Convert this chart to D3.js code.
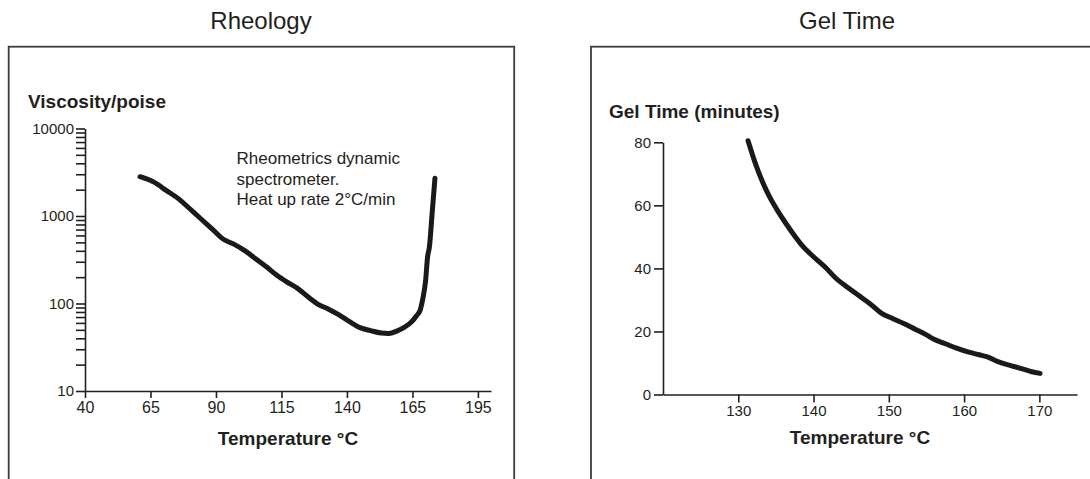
<!DOCTYPE html>
<html>
<head>
<meta charset="utf-8">
<script src="https://cdn.jsdelivr.net/npm/d3@7"></script>
<style>
  body { margin: 0; background: #fff; }
  svg { display: block; font-family: "Liberation Sans", Arial, Helvetica, sans-serif; }
  .tick text { fill: #231f20; }
</style>
</head>
<body>
<div id="root"></div>
<script>
const w = 1090;
const h = 479;
const ink = "#231f20";

// rheology: temperature (°C) vs viscosity (poise, log scale)
const rheoTemp = [61, 66.5, 71, 76, 80, 84, 89, 93, 97, 101, 105, 109, 113, 117, 121, 125, 129, 133, 137, 141,
                  145, 149, 153, 156, 159, 162, 164.5, 166.5, 168, 169, 170, 170.8, 171.5, 172.5, 173.6];
const rheoVisc = [2810, 2420, 1960, 1550, 1210, 942, 690, 538, 474, 402, 326, 266, 213, 177, 150, 120, 98, 86, 74, 62,
                  53, 49, 46, 45.5, 48.4, 53.7, 61, 72, 85, 115, 178, 343, 447, 1050, 2700];
const rheoXTicks = [40, 65, 90, 115, 140, 165, 190];
const rheoXLabels = ["40", "65", "90", "115", "140", "165", "195"];
const rheoYLabels = ["10", "100", "1000", "10000"];
const rheoNote = ["Rheometrics dynamic", "spectrometer.", "Heat up rate 2°C/min"];

// gel time: temperature (°C) vs minutes
const gelTemp = [131.3, 132.2, 133.3, 134.2, 135.3, 136.4, 137.5, 138.5, 140, 141.5, 143, 144.5, 146, 147.5, 149,
                 150.5, 152, 153.5, 155, 156, 157.5, 159, 160.5, 162, 163, 164.5, 166, 167.5, 169, 170.1];
const gelMin = [80.5, 73.8, 67, 62.5, 58, 54, 50.3, 47.2, 43.7, 40.5, 36.8, 34, 31.4, 28.8, 25.8,
                24.1, 22.5, 20.7, 18.9, 17.5, 16.1, 14.7, 13.5, 12.6, 12.0, 10.4, 9.3, 8.3, 7.2, 6.7];
const gelXTicks = [130, 140, 150, 160, 170];
const gelYTicks = [0, 20, 40, 60, 80];

const svg = d3.select("#root")
    .append("svg")
    .attr("width", w)
    .attr("height", h);

// panel frames (run off the bottom / right of the picture)
svg.append("rect")
    .attr("x", 8.7).attr("y", 46.7)
    .attr("width", 505.5).attr("height", 500)
    .attr("fill", "none").attr("stroke", "#3d3d3d").attr("stroke-width", 1.8);
svg.append("rect")
    .attr("x", 591).attr("y", 46.7)
    .attr("width", 600).attr("height", 500)
    .attr("fill", "none").attr("stroke", "#3d3d3d").attr("stroke-width", 1.8);

// titles
svg.append("text")
    .attr("x", 261).attr("y", 28.5)
    .attr("text-anchor", "middle")
    .style("font-size", "24px").style("fill", ink)
    .text("Rheology");
svg.append("text")
    .attr("x", 847).attr("y", 28.5)
    .attr("text-anchor", "middle")
    .style("font-size", "24px").style("fill", ink)
    .text("Gel Time");

function styleAxis(g, size) {
    g.selectAll("path, line").attr("stroke", ink).attr("stroke-width", 1.6);
    g.selectAll("text").style("font-size", size + "px");
}

// ---------- Rheology ----------
const xL = d3.scaleLinear().domain([40, 195]).range([85, 491]);
const yL = d3.scaleLog().domain([10, 10000]).range([391, 128.5]);

const xAxisL = d3.axisBottom(xL)
    .tickValues(rheoXTicks)
    .tickFormat((d, i) => rheoXLabels[i])
    .tickSize(7).tickSizeOuter(0).tickPadding(4);
svg.append("g")
    .attr("transform", "translate(0," + 391 + ")")
    .call(xAxisL)
    .call(styleAxis, 16);

const yAxisL = d3.axisLeft(yL)
    .tickValues(yL.ticks())
    .tickFormat(d => rheoYLabels.includes(String(d)) ? String(d) : "")
    .tickSize(9).tickSizeOuter(0).tickPadding(2);
svg.append("g")
    .attr("transform", "translate(" + 85 + ",0)")
    .call(yAxisL)
    .call(styleAxis, 15);

svg.append("path")
    .datum(rheoTemp)
    .attr("fill", "none")
    .attr("stroke", "#1a1a1a")
    .attr("stroke-width", 5)
    .attr("stroke-linecap", "round")
    .attr("stroke-linejoin", "round")
    .attr("d", d3.line()
        .x(d => xL(d))
        .y((d, i) => yL(rheoVisc[i]))
        .curve(d3.curveMonotoneX));

svg.append("text")
    .attr("x", 28).attr("y", 108)
    .style("font-size", "19px").style("font-weight", "bold").style("fill", ink)
    .text("Viscosity/poise");
svg.append("text")
    .attr("x", 288).attr("y", 445)
    .attr("text-anchor", "middle")
    .style("font-size", "19px").style("font-weight", "bold").style("fill", ink)
    .text("Temperature °C");

svg.append("g")
    .selectAll("text")
    .data(rheoNote)
    .enter()
    .append("text")
    .attr("x", 236.5)
    .attr("y", (d, i) => 164 + i * 20.5)
    .style("font-size", "17px").style("fill", ink)
    .text(d => d);

// ---------- Gel time ----------
const xR = d3.scaleLinear().domain([120, 175]).range([663, 1077]);
const yR = d3.scaleLinear().domain([0, 80]).range([394.5, 142.3]);

const xAxisR = d3.axisBottom(xR)
    .tickValues(gelXTicks)
    .tickSize(8).tickSizeOuter(0).tickPadding(3);
svg.append("g")
    .attr("transform", "translate(0," + 394.5 + ")")
    .call(xAxisR)
    .call(styleAxis, 15);

const yAxisR = d3.axisLeft(yR)
    .tickValues(gelYTicks)
    .tickSize(9).tickSizeOuter(0).tickPadding(3);
svg.append("g")
    .attr("transform", "translate(" + 663 + ",0)")
    .call(yAxisR)
    .call(styleAxis, 15);

svg.append("path")
    .datum(gelTemp)
    .attr("fill", "none")
    .attr("stroke", "#1a1a1a")
    .attr("stroke-width", 5)
    .attr("stroke-linecap", "round")
    .attr("stroke-linejoin", "round")
    .attr("d", d3.line()
        .x(d => xR(d))
        .y((d, i) => yR(gelMin[i]))
        .curve(d3.curveMonotoneX));

svg.append("text")
    .attr("x", 609).attr("y", 117.5)
    .style("font-size", "19px").style("font-weight", "bold").style("fill", ink)
    .text("Gel Time (minutes)");
svg.append("text")
    .attr("x", 860).attr("y", 444)
    .attr("text-anchor", "middle")
    .style("font-size", "19px").style("font-weight", "bold").style("fill", ink)
    .text("Temperature °C");
</script>
</body>
</html>
